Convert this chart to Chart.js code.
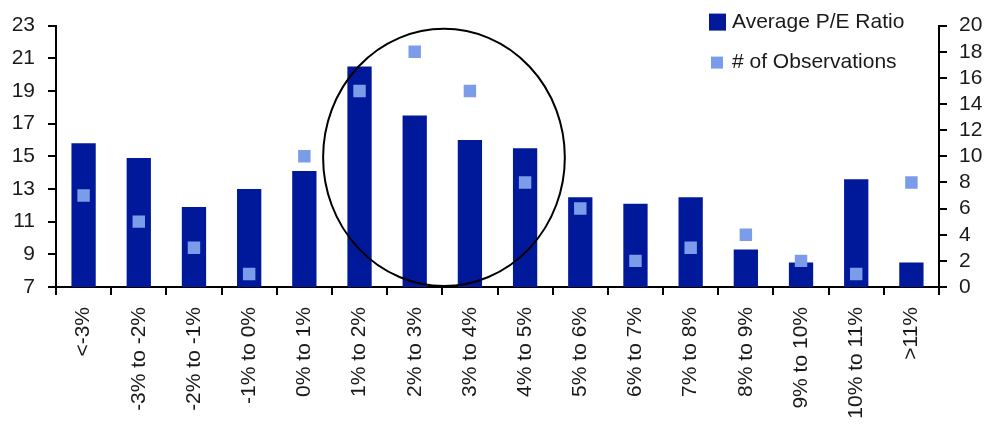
<!DOCTYPE html>
<html>
<head>
<meta charset="utf-8">
<script src="https://cdn.jsdelivr.net/npm/chart.js@4/dist/chart.umd.min.js"></script>
<style>
    body { margin: 0; background: #fff; }
    #wrap { width: 986px; height: 427px; position: relative; }
</style>
</head>
<body>
<div id="wrap"><canvas id="myChart"></canvas></div>
<script>
const categories = [
    '<-3%', '-3% to -2%', '-2% to -1%', '-1% to 0%', '0% to 1%', '1% to 2%',
    '2% to 3%', '3% to 4%', '4% to 5%', '5% to 6%', '6% to 7%', '7% to 8%',
    '8% to 9%', '9% to 10%', '10% to 11%', '>11%'
];
const peRatio = [15.8, 14.9, 11.9, 13.0, 14.1, 20.5, 17.5, 16.0, 15.5, 12.5, 12.1, 12.5, 9.3, 8.5, 13.6, 8.5];
const observations = [7, 5, 3, 1, 10, 15, 18, 15, 8, 6, 2, 3, 4, 2, 1, 8];
const leftTicks = [7, 23, 2];   // min, max, step
const rightTicks = [0, 20, 2];

const darkBlue = '#00189a';
const lightBlue = '#7b9de9';
const textColor = '#1a1a1a';
const font = { family: '"Liberation Sans", Arial, sans-serif', size: 21 };

// circle drawn round the 1% to 5% group
const circlePlugin = {
    id: 'circle',
    afterDatasetsDraw(chart) {
        const x = chart.scales.x, y = chart.scales.y;
        const cx = x.getPixelForValue(6.53);
        const cy = y.getPixelForValue(14.93);
        const rx = Math.abs(x.getPixelForValue(6.53 + 2.19) - cx);
        const ry = Math.abs(y.getPixelForValue(14.93 + 7.87) - cy);
        const ctx = chart.ctx;
        ctx.save();
        ctx.beginPath();
        ctx.ellipse(cx, cy, rx, ry, 0, 0, Math.PI * 2);
        ctx.lineWidth = 2;
        ctx.strokeStyle = '#000';
        ctx.stroke();
        ctx.restore();
    }
};

// legend sits inside the plot, top right
const legendPlugin = {
    id: 'insideLegend',
    afterDraw(chart) {
        const ctx = chart.ctx;
        const area = chart.chartArea;
        const ds = chart.data.datasets;
        const left = area.right - 230;
        ctx.save();
        ctx.font = font.size + 'px ' + font.family;
        ctx.textBaseline = 'middle';
        ctx.fillStyle = ds[0].backgroundColor;
        ctx.fillRect(left, area.top - 12, 17, 17);
        ctx.fillStyle = ds[1].pointBackgroundColor;
        ctx.fillRect(left + 2, area.top + 31, 12, 12);
        ctx.fillStyle = textColor;
        ctx.fillText(ds[0].label, left + 23, area.top - 3);
        ctx.fillText(ds[1].label, left + 23, area.top + 37);
        ctx.restore();
    }
};

const config = {
    data: {
        labels: categories,
        datasets: [{
            type: 'bar',
            label: 'Average P/E Ratio',
            data: peRatio,
            backgroundColor: darkBlue,
            yAxisID: 'y',
            categoryPercentage: 1,
            barPercentage: 0.44,
            order: 1
        }, {
            type: 'line',
            label: '# of Observations',
            data: observations,
            showLine: false,
            pointStyle: 'rect',
            pointRadius: 8.8,
            pointHoverRadius: 8.8,
            pointBorderWidth: 0,
            pointBackgroundColor: lightBlue,
            yAxisID: 'y1',
            order: 0
        }]
    },
    options: {
        responsive: true,
        maintainAspectRatio: false,
        animation: false,
        layout: { padding: { top: 24, left: 0, right: 0, bottom: 0 } },
        plugins: {
            legend: { display: false },
            tooltip: { enabled: false }
        },
        scales: {
            x: {
                offset: true,
                grid: { offset: true, drawOnChartArea: false, tickLength: 8, color: '#000', lineWidth: 2 },
                border: { color: '#000', width: 2 },
                ticks: { font: font, color: textColor, minRotation: 90, maxRotation: 90, autoSkip: false, padding: 12 },
                afterFit(scale) { scale.height = 140; }
            },
            y: {
                position: 'left',
                min: leftTicks[0],
                max: leftTicks[1],
                ticks: { stepSize: leftTicks[2], font: font, color: textColor, padding: 13, autoSkip: false },
                grid: { drawOnChartArea: false, tickLength: 8, color: '#000', lineWidth: 2 },
                border: { color: '#000', width: 2 },
                afterFit(scale) { scale.width = 56; }
            },
            y1: {
                position: 'right',
                min: rightTicks[0],
                max: rightTicks[1],
                ticks: { stepSize: rightTicks[2], font: font, color: textColor, padding: 12, autoSkip: false },
                grid: { drawOnChartArea: false, tickLength: 8, color: '#000', lineWidth: 2 },
                border: { color: '#000', width: 2 },
                afterFit(scale) { scale.width = 47; }
            }
        }
    },
    plugins: [circlePlugin, legendPlugin]
};

var myChart = new Chart(document.getElementById('myChart'), config);
</script>
</body>
</html>
